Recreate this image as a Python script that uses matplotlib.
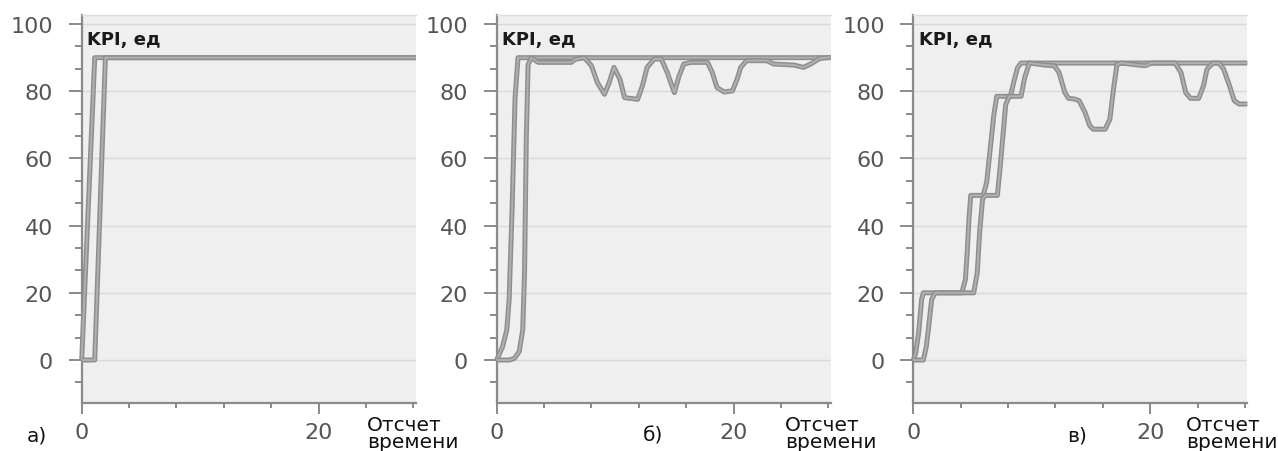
import matplotlib
matplotlib.use("Agg")
import matplotlib.pyplot as plt
from matplotlib.ticker import MultipleLocator, FixedLocator
import matplotlib.patheffects as pe

# ---------------- data ----------------
panel_labels = ["а)", "б)", "в)"]
y_label = "KPI, ед"
x_label = "Отсчет\nвремени"
y_ticks = [0, 20, 40, 60, 80, 100]
x_ticks = [0, 20]

# panel а
a_x1 = [0, 1.1, 28.2]
a_y1 = [0, 90, 90]
a_x2 = [0, 1.1, 2.0, 28.2]
a_y2 = [0, 0, 90, 90]

# panel б
b_x1 = [0, 0.5, 0.85, 1.05, 1.3, 1.55, 1.8, 28.2]
b_y1 = [0, 4, 9, 18, 45, 78, 90, 90]
b_x2 = [0, 1.1, 1.5, 1.9, 2.2, 2.35, 2.5, 2.65, 2.94, 3.5, 6.3, 6.6, 7.4, 8.0,
        8.5, 9.1, 9.5, 9.9, 10.4, 10.8, 11.9, 12.3, 12.7, 13.3, 13.9, 14.4,
        15.0, 15.4, 15.8, 16.4, 17.8, 18.2, 18.6, 19.2, 19.9, 20.3, 20.6, 21.1,
        22.8, 23.4, 25.1, 25.9, 26.5, 27.3, 28.2]
b_y2 = [0, 0, 0.5, 2.5, 9, 26, 66, 88, 90, 88.6, 88.6, 89.5, 90, 87.6,
        82.6, 79.1, 82.6, 87.1, 83.6, 78.1, 77.6, 81.6, 87.1, 89.6, 89.6, 85.6,
        79.6, 84.6, 88.1, 88.6, 88.6, 85.6, 81.1, 79.8, 80.1, 83.6, 87.1, 89.1,
        89.1, 88.1, 87.8, 87.1, 88.1, 89.8, 90.1]

# panel в
c_x1 = [0, 0.2, 0.45, 0.7, 0.85, 4.1, 4.4, 4.55, 4.7, 4.85, 5.9, 6.2, 6.5,
        6.8, 7.05, 8.2, 8.5, 8.8, 9.1, 28.2]
c_y1 = [0, 2, 8, 18, 20, 20, 24, 32, 42, 49, 49, 53, 63,
        73, 78.5, 78.5, 83, 87, 88.4, 88.4]
c_x2 = [0, 0.85, 1.1, 1.3, 1.55, 1.85, 5.1, 5.4, 5.6, 5.85, 6.1, 7.1, 7.35,
        7.6, 7.8, 8.1, 9.1, 9.4, 9.8, 11.1, 11.9, 12.3, 12.8, 13.1, 13.6, 14.0,
        14.5, 14.9, 15.2, 16.2, 16.6, 16.9, 17.2, 17.6, 19.0, 19.6, 20.1, 22.1,
        22.6, 23.0, 23.4, 24.1, 24.5, 24.8, 25.3, 25.8, 26.2, 26.7, 27.1, 27.5,
        28.2]
c_y2 = [0, 0, 4, 10, 18, 20, 20, 26, 38, 48, 49, 49, 58,
        68, 76, 78.5, 78.5, 84, 88.4, 87.8, 87.6, 85.6, 79.6, 77.9, 77.7, 77.2,
        73.7, 69.7, 68.7, 68.7, 71.7, 80.6, 88, 88.4, 87.8, 87.6, 88.4, 88.4,
        85.6, 79.6, 77.9, 77.9, 81.6, 86.6, 88.4, 88.4, 86.6, 81.6, 77.2, 76.2,
        76.2]

series = [
    [(a_x1, a_y1), (a_x2, a_y2)],
    [(b_x1, b_y1), (b_x2, b_y2)],
    [(c_x1, c_y1), (c_x2, c_y2)],
]

# ---------------- layout ----------------
W, H = 1278, 452
fig = plt.figure(figsize=(W / 100, H / 100), dpi=100)
fig.patch.set_facecolor("white")

axes_left_px = [81.7, 496.7, 913.3]
axes_w_px = 334
axes_top_px, axes_bot_px = 16, 404
xlabel_px = [367, 785, 1186]
panel_label_px = [27, 643, 1067]

spine_col = "#8a8a8a"
tick_col = "#555555"
line_effect = [pe.Stroke(linewidth=3.6, foreground="#8e8e8e"),
               pe.Normal()]

for i, lines in enumerate(series):
    ax = fig.add_axes([axes_left_px[i] / W, 1 - axes_bot_px / H,
                       axes_w_px / W, (axes_bot_px - axes_top_px) / H])
    ax.set_facecolor("#efefef")
    ax.set_xlim(0, 28.2)
    ax.set_ylim(-12.8, 102.7)

    for x, y in lines:
        ax.plot(x, y, color="#b0b0b0", lw=1.4, solid_joinstyle="round",
                solid_capstyle="butt", path_effects=line_effect, zorder=3,
                clip_on=False)

    ax.yaxis.set_major_locator(FixedLocator(y_ticks))
    ax.yaxis.set_minor_locator(MultipleLocator(20 / 3))
    ax.xaxis.set_major_locator(FixedLocator(x_ticks))
    ax.xaxis.set_minor_locator(MultipleLocator(4))
    ax.grid(axis="y", which="major", color="#d9d9d9", lw=1.0, zorder=0)
    ax.set_axisbelow(True)

    for s in ["left", "bottom"]:
        ax.spines[s].set_color(spine_col)
        ax.spines[s].set_linewidth(1.6)
    ax.spines["right"].set_visible(False)
    ax.spines["top"].set_color("#dcdcdc")
    ax.spines["top"].set_linewidth(1.0)

    ax.tick_params(axis="y", which="major", length=9.5, width=1.4,
                   color=spine_col, pad=11, labelsize=16, labelcolor=tick_col)
    ax.tick_params(axis="y", which="minor", length=5, width=1.4,
                   color=spine_col)
    ax.tick_params(axis="x", which="major", length=8, width=1.4,
                   color=spine_col, pad=6, labelsize=16, labelcolor=tick_col)
    ax.tick_params(axis="x", which="minor", length=3.5, width=1.4,
                   color=spine_col)

    ax.text(0.016, 0.938, y_label, transform=ax.transAxes, ha="left",
            va="center", fontsize=13, fontweight="bold", color="#1a1a1a")

    fig.text(xlabel_px[i] / W, 1 - 434 / H, x_label, ha="left",
             va="center", fontsize=14.5, color="#111111", linespacing=0.92)
    fig.text(panel_label_px[i] / W, 1 - 436 / H, panel_labels[i], ha="left",
             va="center", fontsize=14.5, color="#111111")

fig.savefig("out.png", dpi=100, facecolor="white")
